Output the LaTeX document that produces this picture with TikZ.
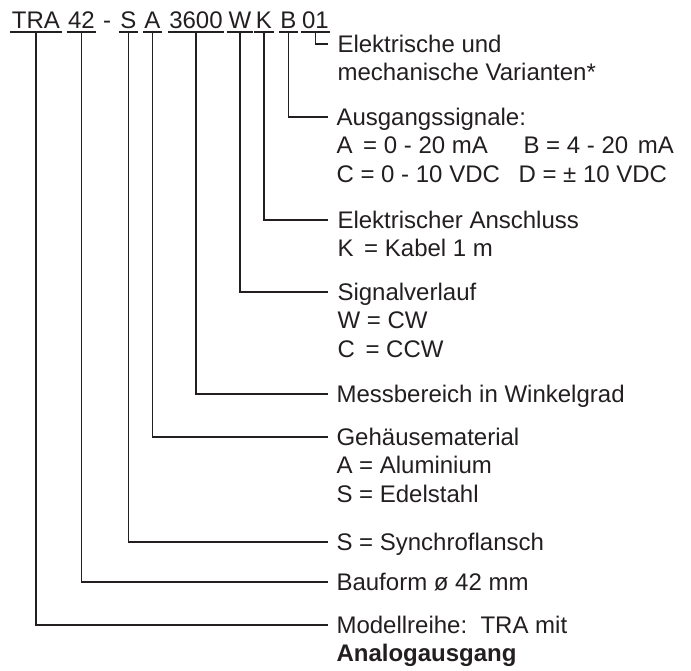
\documentclass[tikz,border=0pt]{standalone}
\usepackage{fontspec}
\setmainfont{Liberation Sans}

\definecolor{ink}{HTML}{231F20}

\begin{document}
\begin{tikzpicture}[x=1pt, y=-1pt, line width=1.1pt, draw=ink, text=ink,
  code/.style={anchor=base, inner xsep=1pt, inner ysep=0pt, font=\fontsize{24}{28.5}\selectfont},
  lbl/.style={anchor=base west, align=left, inner sep=0pt, font=\fontsize{24}{28.5}\selectfont}]

  \useasboundingbox (0,0) rectangle (691,670);

  % --- Type code ---
  \node[code] (tTRA)  at (36,28)    {TRA};
  \node[code] (t42)   at (81.5,28)  {42};
  \node[code] (tdash) at (107,28)   {-};
  \node[code] (tS)    at (128.5,28) {S};
  \node[code] (tA)    at (152.5,28) {A};
  \node[code] (t3600) at (196,28)   {3600};
  \node[code] (tW)    at (240,28)   {W};
  \node[code] (tK)    at (264,28)   {K};
  \node[code] (tB)    at (288.5,28) {B};
  \node[code] (t01)   at (315.5,28) {01};

  % --- Underlines ---
  \foreach \n in {tTRA,t42,tS,tA,t3600,tW,tK,tB,t01}
    \draw ([yshift=-4pt]\n.base west) -- ([yshift=-4pt]\n.base east);

  % --- Line ends ---
  \coordinate (e01)   at (328,44);
  \coordinate (eB)    at (328,117);
  \coordinate (eK)    at (328,220);
  \coordinate (eW)    at (328,292);
  \coordinate (e3600) at (328,394);
  \coordinate (eA)    at (328,437);
  \coordinate (eS)    at (328,542);
  \coordinate (e42)   at (328,582);
  \coordinate (eTRA)  at (328,625);

  % --- Leader lines ---
  \foreach \n in {01,B,K,W,3600,A,S,42,TRA}
    \draw ([yshift=-4pt]t\n.base) |- (e\n);

  % --- Labels (placed at the baseline of their last line) ---
  \node[lbl] (l01)   at (337,80.5)  {Elektrische und\\mechanische Varianten*};
  \node[lbl] (lB)    at (336,182)   {Ausgangssignale:\\
    \makebox[187pt][l]{A\hspace{4pt} = 0 - 20 mA}B = 4 - 20\hspace{3pt} mA\\
    \makebox[182pt][l]{C = 0 - 10 VDC}D = ± 10 VDC};
  \node[lbl] (lK)    at (337,256.5) {Elektrischer Anschluss\\K\hspace{4pt} = Kabel 1 m};
  \node[lbl] (lW)    at (337,357)   {Signalverlauf\\W = CW\\C\hspace{4pt} = CCW};
  \node[lbl] (l3600) at (336,402)   {Messbereich in Winkelgrad};
  \node[lbl] (lA)    at (336,502)   {Gehäusematerial\\A = Aluminium\\S = Edelstahl};
  \node[lbl] (lS)    at (336,550)   {S = Synchroflansch};
  \node[lbl] (l42)   at (336,590)   {Bauform ø 42 mm};
  \node[lbl] (lTRA)  at (336,661.5) {Modellreihe:\ \ TRA mit\\\textbf{Analogausgang}};

\end{tikzpicture}
\end{document}
